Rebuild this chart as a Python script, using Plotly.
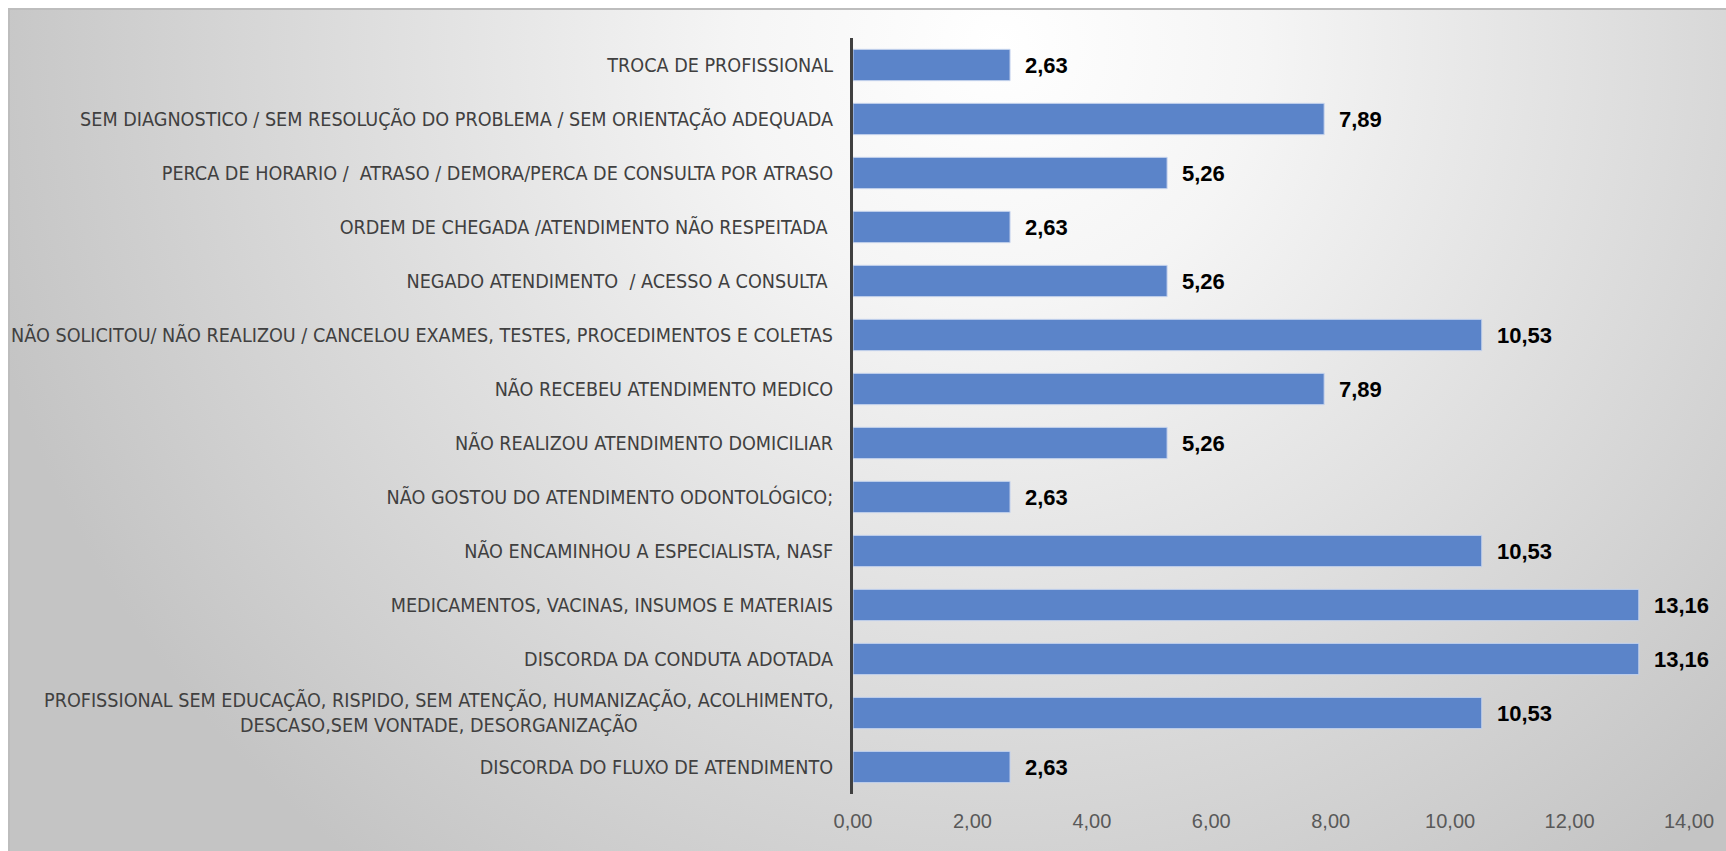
import base64
import plotly.graph_objects as go

categories = [
    "TROCA DE PROFISSIONAL",
    "SEM DIAGNOSTICO / SEM RESOLUÇÃO DO PROBLEMA / SEM ORIENTAÇÃO ADEQUADA",
    "PERCA DE HORARIO /  ATRASO / DEMORA/PERCA DE CONSULTA POR ATRASO",
    "ORDEM DE CHEGADA /ATENDIMENTO NÃO RESPEITADA ",
    "NEGADO ATENDIMENTO  / ACESSO A CONSULTA ",
    "NÃO SOLICITOU/ NÃO REALIZOU / CANCELOU EXAMES, TESTES, PROCEDIMENTOS E COLETAS",
    "NÃO RECEBEU ATENDIMENTO MEDICO",
    "NÃO REALIZOU ATENDIMENTO DOMICILIAR",
    "NÃO GOSTOU DO ATENDIMENTO ODONTOLÓGICO;",
    "NÃO ENCAMINHOU A ESPECIALISTA, NASF",
    "MEDICAMENTOS, VACINAS, INSUMOS E MATERIAIS",
    "DISCORDA DA CONDUTA ADOTADA",
    "PROFISSIONAL SEM EDUCAÇÃO, RISPIDO, SEM ATENÇÃO, HUMANIZAÇÃO, ACOLHIMENTO,<br>DESCASO,SEM VONTADE, DESORGANIZAÇÃO",
    "DISCORDA DO FLUXO DE ATENDIMENTO",
]
values = [2.63, 7.89, 5.26, 2.63, 5.26, 10.53, 7.89, 5.26, 2.63, 10.53, 13.16, 13.16, 10.53, 2.63]
x_ticks = [0, 2, 4, 6, 8, 10, 12, 14]

W, H = 1726, 851
ML, MR, MT, MB = 853, 37, 38, 57
PW, PH = W - ML - MR, H - MT - MB

def px_to_paper_x(px):
    return (px - ML) / PW

def px_to_paper_y(py):
    return (H - MB - py) / PH

svg = f'''<svg xmlns="http://www.w3.org/2000/svg" width="{W}" height="{H}" viewBox="0 0 {W} {H}" preserveAspectRatio="none">
<defs><radialGradient id="g" gradientUnits="userSpaceOnUse" cx="995" cy="35" r="1050">
<stop offset="0" stop-color="#ffffff"/><stop offset="0.25" stop-color="#f5f5f5"/><stop offset="1" stop-color="#c4c4c4"/></radialGradient></defs>
<rect x="0" y="0" width="{W}" height="{H}" fill="url(#g)"/></svg>'''
bg_src = "data:image/svg+xml;base64," + base64.b64encode(svg.encode()).decode()

label_font = dict(family="Liberation Sans Narrow, Arial Narrow, DejaVu Sans Condensed, sans-serif",
                  size=19.6, color="#404040")

fig = go.Figure()
fig.add_trace(go.Bar(
    x=values, y=categories, orientation="h",
    marker=dict(color="#5B84C9", line=dict(color="#C9D6EE", width=1)),
    hoverinfo="skip",
))

for c, v in zip(categories, values):
    fig.add_annotation(x=v, y=c, text=f"{v:.2f}".replace(".", ","), showarrow=False,
                       xanchor="left", xshift=13,
                       font=dict(family="Liberation Sans, Arial, sans-serif", size=22, color="#000000", weight="bold"))

# multi-line category labels are centred line-by-line, as in the reference
tick_text = []
for c in categories:
    if "<br>" in c:
        tick_text.append("")
        fig.add_annotation(xref="paper", x=0, y=c, text=c, showarrow=False, xanchor="right",
                           align="center", xshift=-17, font=label_font)
    else:
        tick_text.append(c)

x0, y0 = 9, 9
fig.add_layout_image(dict(source=bg_src, xref="paper", yref="paper",
                          x=px_to_paper_x(x0), y=px_to_paper_y(y0),
                          sizex=(W - x0) / PW, sizey=(H - y0) / PH,
                          sizing="stretch", layer="below", xanchor="left", yanchor="top"))
fig.add_shape(type="rect", xref="paper", yref="paper",
              x0=px_to_paper_x(x0), y0=px_to_paper_y(H + 5), x1=px_to_paper_x(W + 5), y1=px_to_paper_y(y0),
              line=dict(color="#BDBDBD", width=2), fillcolor="rgba(0,0,0,0)", layer="below")

fig.update_layout(
    width=W, height=H,
    margin=dict(l=ML, r=MR, t=MT, b=MB, autoexpand=False),
    paper_bgcolor="#ffffff", plot_bgcolor="rgba(0,0,0,0)",
    separators=",.",
    bargap=0.42,
    showlegend=False,
    xaxis=dict(range=[0, 14], tickvals=x_ticks, tickformat=".2f", showgrid=False, zeroline=False,
               showline=False, ticks="", ticklabelstandoff=13, automargin=False,
               tickfont=dict(family="Liberation Sans, Arial, sans-serif", size=20, color="#595959")),
    yaxis=dict(autorange="reversed", showgrid=False, zeroline=False, showline=True, automargin=False,
               tickvals=categories, ticktext=tick_text,
               linecolor="#404040", linewidth=3, ticks="", ticklabelstandoff=13,
               tickfont=label_font),
)

fig.write_html("out.html", config={"displayModeBar": False},
               post_script="document.body.style.margin='0';document.body.style.overflow='hidden';")
